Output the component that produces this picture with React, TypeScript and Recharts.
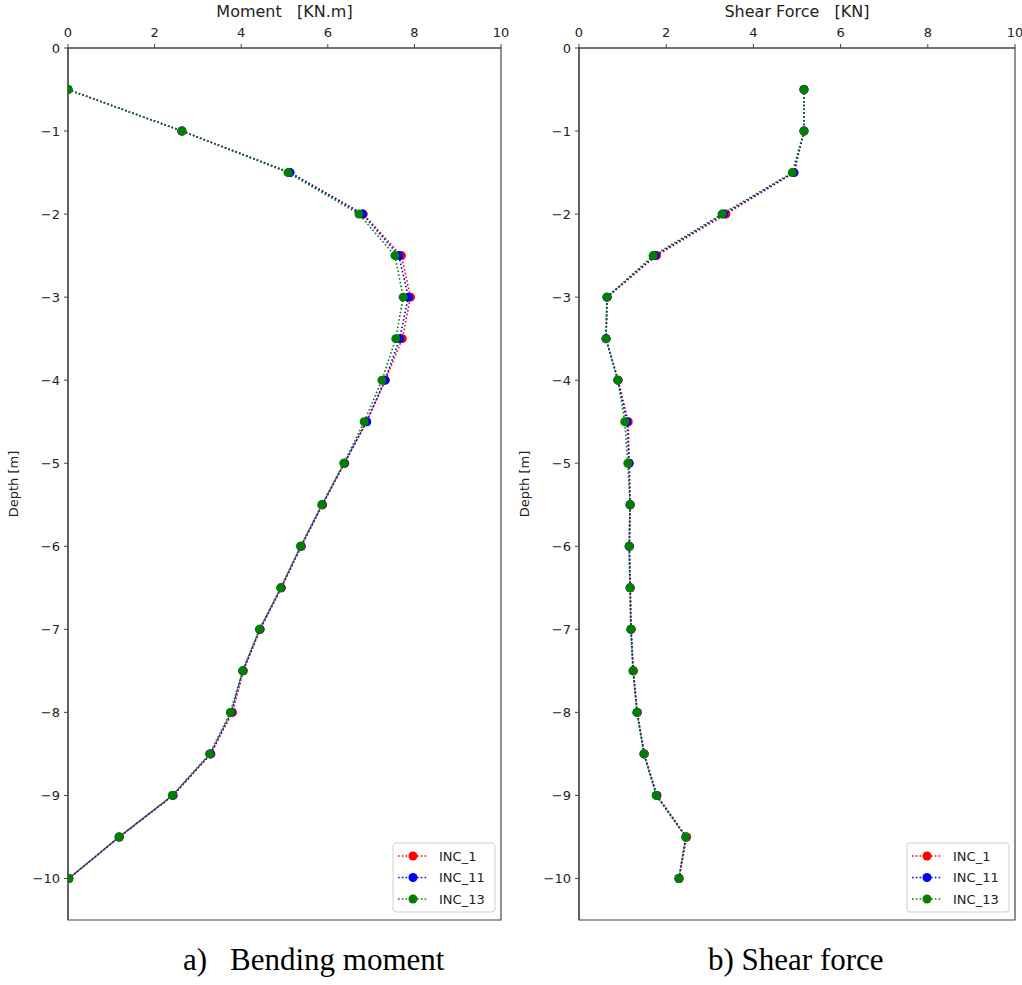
import React from "react";
import { ScatterChart, Scatter, XAxis, YAxis, ReferenceArea } from "recharts";

const depths = [-0.5, -1, -1.5, -2, -2.5, -3, -3.5, -4, -4.5, -5, -5.5, -6, -6.5, -7, -7.5, -8, -8.5, -9, -9.5, -10];

const momentInc1 = [0, 2.63, 5.12, 6.82, 7.7, 7.91, 7.72, 7.33, 6.89, 6.39, 5.88, 5.39, 4.93, 4.44, 4.05, 3.8, 3.3, 2.43, 1.19, 0.02];
const momentInc11 = [0, 2.63, 5.13, 6.8, 7.64, 7.86, 7.66, 7.32, 6.9, 6.38, 5.87, 5.38, 4.92, 4.43, 4.04, 3.77, 3.29, 2.42, 1.18, 0.02];
const momentInc13 = [0, 2.63, 5.08, 6.72, 7.55, 7.74, 7.57, 7.25, 6.84, 6.37, 5.86, 5.37, 4.91, 4.42, 4.03, 3.75, 3.27, 2.41, 1.18, 0.02];

const shearInc1 = [5.16, 5.16, 4.93, 3.37, 1.78, 0.65, 0.62, 0.9, 1.13, 1.15, 1.18, 1.16, 1.18, 1.2, 1.25, 1.34, 1.5, 1.79, 2.47, 2.3];
const shearInc11 = [5.16, 5.16, 4.93, 3.32, 1.74, 0.64, 0.62, 0.89, 1.1, 1.15, 1.17, 1.15, 1.17, 1.19, 1.24, 1.33, 1.49, 1.78, 2.45, 2.29];
const shearInc13 = [5.16, 5.16, 4.89, 3.28, 1.7, 0.64, 0.62, 0.89, 1.05, 1.12, 1.17, 1.15, 1.17, 1.19, 1.24, 1.33, 1.49, 1.77, 2.45, 2.29];

const seriesNames = ["INC_1", "INC_11", "INC_13"];
const seriesColors = ["#ff0000", "#0000ff", "#008000"];
const xTicks = [0, 2, 4, 6, 8, 10];
const yTicks = [0, -1, -2, -3, -4, -5, -6, -7, -8, -9, -10];

const FONT = "'DejaVu Sans', Verdana, sans-serif";
const AXIS_COLOR = "#444";
const CHART_H = 930;
const PLOT_TOP = 48;
const PLOT_BOTTOM = 920;

const fmt = (v: number) => (v < 0 ? "\u2212" + Math.abs(v) : String(v));

const toPoints = (vals: number[]) => vals.map((x, i) => ({ x, y: depths[i] }));

type PanelProps = {
  left: number;
  width: number;
  marginRight: number;
  series: number[][];
};

function Panel({ left, width, marginRight, series }: PanelProps) {
  const tickStyle = { fontFamily: FONT, fontSize: 13, fill: "#222" };
  return (
    <div style={{ position: "absolute", left, top: 0 }}>
      <ScatterChart
        width={width}
        height={CHART_H}
        margin={{ top: 0, right: marginRight, bottom: CHART_H - PLOT_BOTTOM, left: 0 }}
      >
        <XAxis
          type="number"
          dataKey="x"
          orientation="top"
          domain={[0, 10]}
          ticks={xTicks}
          height={PLOT_TOP}
          tickSize={4}
          tickMargin={7}
          tick={tickStyle}
          stroke={AXIS_COLOR}
          axisLine={{ stroke: AXIS_COLOR, strokeWidth: 1.2 }}
          tickLine={{ stroke: AXIS_COLOR }}
          allowDataOverflow
        />
        <YAxis
          type="number"
          dataKey="y"
          domain={[-10.5, 0]}
          ticks={yTicks}
          width={68}
          tickSize={4}
          tickMargin={4}
          tickFormatter={fmt}
          tick={tickStyle}
          stroke={AXIS_COLOR}
          axisLine={{ stroke: AXIS_COLOR, strokeWidth: 1.2 }}
          tickLine={{ stroke: AXIS_COLOR }}
          allowDataOverflow
        />
        <ReferenceArea
          x1={0}
          x2={10}
          y1={-10.5}
          y2={0}
          fill="none"
          fillOpacity={0}
          stroke={AXIS_COLOR}
          strokeWidth={1.2}
          ifOverflow="visible"
        />
        {series.map((vals, i) => (
          <Scatter
            key={seriesNames[i]}
            name={seriesNames[i]}
            data={toPoints(vals)}
            fill={seriesColors[i]}
            line={{ stroke: seriesColors[i], strokeWidth: 1.6, strokeDasharray: "1.6 2.2" }}
            lineType="joint"
            isAnimationActive={false}
            shape={(p: any) => <circle cx={p.cx} cy={p.cy} r={4.5} fill={seriesColors[i]} />}
          />
        ))}
      </ScatterChart>
    </div>
  );
}

function LegendBox({ right }: { right: number }) {
  const boxW = 102;
  const x0 = right - 6 - boxW;
  const y0 = 843;
  return (
    <g>
      <rect x={x0} y={y0} width={boxW} height={69} rx={3} fill="#fff" fillOpacity={0.85} stroke="#d0d0d0" strokeWidth={1} />
      {seriesNames.map((n, i) => {
        const cy = 856 + i * 21.5;
        return (
          <g key={n}>
            <line x1={x0 + 5} x2={x0 + 35} y1={cy} y2={cy} stroke={seriesColors[i]} strokeWidth={1.6} strokeDasharray="1.6 2.2" />
            <circle cx={x0 + 20} cy={cy} r={4.5} fill={seriesColors[i]} />
            <text x={x0 + 46} y={cy + 4.5} fontFamily={FONT} fontSize={13} fill="#222">
              {n}
            </text>
          </g>
        );
      })}
    </g>
  );
}

function Overlay() {
  const leftPlot = { l: 68, r: 501 };
  const rightPlot = { l: 579, r: 1015 };
  const midY = (PLOT_TOP + PLOT_BOTTOM) / 2;
  const serif = "'Liberation Serif', 'Times New Roman', serif";
  return (
    <svg width={1022} height={985} style={{ position: "absolute", left: 0, top: 0, pointerEvents: "none" }}>
      <text x={(leftPlot.l + leftPlot.r) / 2} y={17} textAnchor="middle" fontFamily={FONT} fontSize={16} fill="#222" style={{ whiteSpace: "pre" }}>
        {"Moment   [KN.m]"}
      </text>
      <text x={(rightPlot.l + rightPlot.r) / 2} y={17} textAnchor="middle" fontFamily={FONT} fontSize={16} fill="#222" style={{ whiteSpace: "pre" }}>
        {"Shear Force   [KN]"}
      </text>
      <text x={18} y={midY} textAnchor="middle" fontFamily={FONT} fontSize={13} fill="#222" transform={`rotate(-90 18 ${midY})`}>
        Depth [m]
      </text>
      <text x={529} y={midY} textAnchor="middle" fontFamily={FONT} fontSize={13} fill="#222" transform={`rotate(-90 529 ${midY})`}>
        Depth [m]
      </text>
      <LegendBox right={leftPlot.r} />
      <LegendBox right={rightPlot.r} />
      <text x={183} y={970} fontFamily={serif} fontSize={31} fill="#000">
        a)
      </text>
      <text x={230} y={970} fontFamily={serif} fontSize={31} fill="#000">
        Bending moment
      </text>
      <text x={708} y={970} fontFamily={serif} fontSize={31} fill="#000">
        b) Shear force
      </text>
    </svg>
  );
}

export default function App() {
  return (
    <div style={{ position: "absolute", left: 0, top: 0, width: 1022, height: 985, background: "#fff" }}>
      <Panel left={0} width={511} marginRight={10} series={[momentInc1, momentInc11, momentInc13]} />
      <Panel left={511} width={511} marginRight={7} series={[shearInc1, shearInc11, shearInc13]} />
      <Overlay />
    </div>
  );
}
